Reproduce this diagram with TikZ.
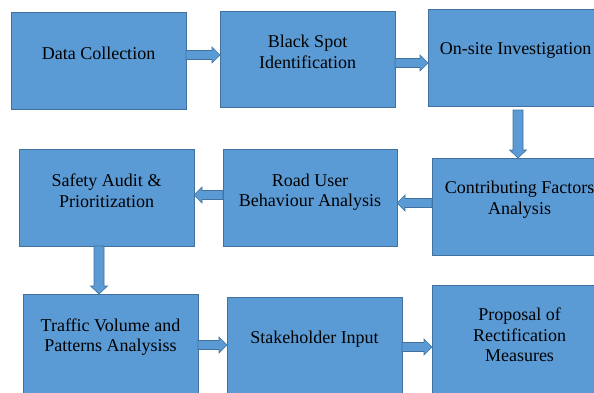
\documentclass[tikz,border=0pt]{standalone}
\usepackage{fontspec}
\setmainfont{Liberation Serif}
\usetikzlibrary{calc}
\definecolor{boxfill}{HTML}{5B9BD5}
\definecolor{boxline}{HTML}{41719C}
\newcommand\arrR[2]{\draw[arr] ($(#1)+(0,-4.5)$) -- ($(#2)+(-8,-4.5)$) -- ($(#2)+(-8,-8)$) -- (#2) -- ($(#2)+(-8,8)$) -- ($(#2)+(-8,4.5)$) -- ($(#1)+(0,4.5)$) -- cycle;}
\newcommand\arrL[2]{\draw[arr] ($(#1)+(0,-4.5)$) -- ($(#2)+(8,-4.5)$) -- ($(#2)+(8,-8)$) -- (#2) -- ($(#2)+(8,8)$) -- ($(#2)+(8,4.5)$) -- ($(#1)+(0,4.5)$) -- cycle;}
\newcommand\arrD[2]{\draw[arr] ($(#1)+(-5,0)$) -- ($(#2)+(-5,-8)$) -- ($(#2)+(-8.5,-8)$) -- (#2) -- ($(#2)+(8.5,-8)$) -- ($(#2)+(5,-8)$) -- ($(#1)+(5,0)$) -- cycle;}
\begin{document}
\begin{tikzpicture}[x=1pt,y=-1pt,
  box/.style={draw=boxline, fill=boxfill, line width=0.8pt, minimum width=175pt, minimum height=97pt, inner sep=0pt, outer sep=0pt, anchor=north west},
  txt/.style={font=\fontsize{18}{20.5}\selectfont, align=center, inner sep=0pt, text=black},
  arr/.style={draw=boxline, fill=boxfill, line width=0.6pt, line join=miter}]
\useasboundingbox (0,0) rectangle (594,392);
\clip (0,0) rectangle (594,392);
% boxes
\node[box] (A) at (11,12) {};
\node[box, minimum height=96pt] (B) at (220,11) {};
\node[box] (C) at (428,9) {};
\node[box] (D) at (432,158) {};
\node[box, minimum width=174pt] (E) at (223,149) {};
\node[box] (F) at (19,149) {};
\node[box, minimum height=110pt] (G) at (23,294) {};
\node[box, minimum height=110pt] (H) at (227,297) {};
\node[box, minimum height=120pt] (I) at (432,285) {};
% texts
\node[txt] (tA) at ($(A.north)+(0,41)$) {Data Collection};
\node[txt] (tB) at ($(B.north)+(0,41)$) {Black Spot\\Identification};
\node[txt] (tC) at ($(C.north)+(0,41)$) {On-site Investigation};
\node[txt] (tD) at ($(D.north)+(0,41.5)$) {Contributing Factors\\Analysis};
\node[txt] (tE) at ($(E.north)+(0,43)$) {Road User\\Behaviour Analysis};
\node[txt] (tF) at ($(F.north)+(0,41.5)$) {Safety Audit \&\\Prioritization};
\node[txt] (tG) at ($(G.north)+(0,43)$) {Traffic Volume and\\Patterns Analysiss};
\node[txt] (tH) at ($(H.north)+(0,42)$) {Stakeholder Input};
\node[txt] (tI) at ($(I.north)+(0,50)$) {Proposal of\\Rectification\\Measures};
% connector end points
\coordinate (s1) at (A.east |- 0,55);  \coordinate (e1) at (B.west |- 0,55);
\coordinate (s2) at (B.east |- 0,63);  \coordinate (e2) at (C.west |- 0,63);
\coordinate (s3) at ($(C.south)+(2.5,4)$); \coordinate (e3) at ($(D.north)+(-1.5,0)$);
\coordinate (s4) at (D.west |- 0,203); \coordinate (e4) at (E.east |- 0,203);
\coordinate (s5) at (E.west |- 0,195); \coordinate (e5) at (F.east |- 0,195);
\coordinate (s6) at ($(F.south)+(-7.5,0)$); \coordinate (e6) at (s6 |- G.north);
\coordinate (s7) at (G.east |- 0,345); \coordinate (e7) at (H.west |- 0,345);
\coordinate (s8) at (H.east |- 0,347); \coordinate (e8) at (I.west |- 0,347);
% connectors
\arrR{s1}{e1}
\arrR{s2}{e2}
\arrD{s3}{e3}
\arrL{s4}{e4}
\arrL{s5}{e5}
\arrD{s6}{e6}
\arrR{s7}{e7}
\arrR{s8}{e8}
\end{tikzpicture}
\end{document}
